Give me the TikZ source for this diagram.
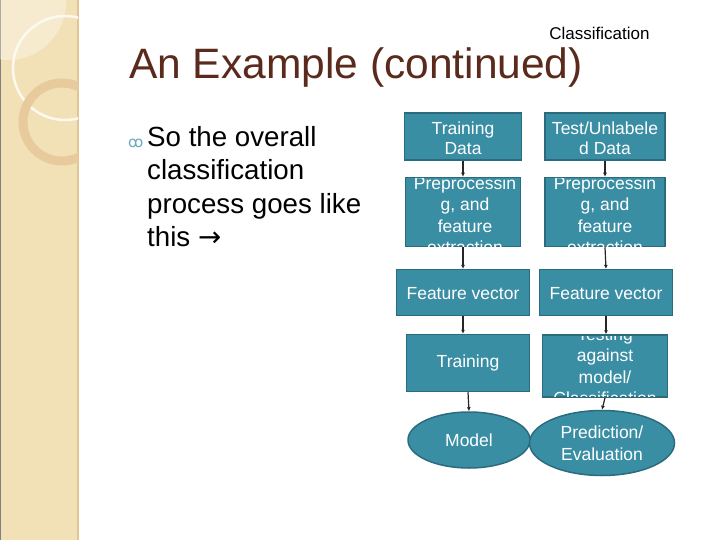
\documentclass[tikz,border=0pt]{standalone}
\usepackage{fontspec}
\setmainfont{Liberation Sans}
\newfontfamily\dejavu{DejaVu Sans}
\usetikzlibrary{shapes.geometric,arrows.meta}
\definecolor{teal1}{HTML}{3A8EA4}
\definecolor{teal2}{HTML}{2A6C7E}
\definecolor{beige}{HTML}{F2E1B6}
\definecolor{titlec}{HTML}{5A2A1C}
\tikzset{
 box/.style={draw=teal2,line width=1.5pt,fill=teal1,text=white,font=\fontsize{17.5}{21.5}\selectfont,align=center,inner sep=0pt},
 cyl/.style={box,cylinder,shape border rotate=90,aspect=0.2,cylinder uses custom fill,cylinder body fill=teal1,cylinder end fill=teal1!85!white},
 lbl/.style={text=white,align=center,font=\fontsize{17.5}{20}\selectfont,inner sep=0pt},
 ell/.style={box,ellipse},
 arr/.style={draw=black!85,line width=1.2pt,-{Latex[length=4pt,width=4pt]}}
}
\begin{document}
\begin{tikzpicture}[x=1pt,y=-1pt]
\useasboundingbox (0,0) rectangle (720,540);
\fill[white] (0,0) rectangle (720,540);
% sidebar
\fill[beige] (0,0) rectangle (78,540);
\draw[beige!70!brown,line width=1.5pt] (78,0) -- (78,540);
\draw[black!50,line width=0.8pt] (0,0) -- (0,540);
\begin{scope}
\clip (0,0) rectangle (78,540);
\fill[white,opacity=0.35] (8,2) circle (58);
\draw[white!80!beige,line width=2.5pt] (65,68) circle (52);
\draw[brown!22!beige,line width=9pt] (62,122) circle (39);
\end{scope}
% texts
\node[anchor=east,font=\fontsize{17}{20}\selectfont] (cls) at (653,33) {Classification};
\node[anchor=west,text=titlec,font=\fontsize{42.5}{46}\selectfont,inner sep=0pt] (title) at (129,68) {An Example (continued)};
\node[anchor=west,text=teal1!75,font=\dejavu\fontsize{15}{15}\selectfont,inner sep=0pt] (bul) at (128,143) {ꝏ};
\node[anchor=north west,align=left,font=\fontsize{27.7}{33.5}\selectfont,inner sep=0pt] (body) at (147,126)
 {So the overall\\classification\\process goes like\\this {\dejavu →}};
% diagram
\node[cyl,minimum width=117pt,minimum height=47pt] (td) at (463,137) {};
\node[lbl] (tdt) at (463,138) {Training\\Data};
\node[cyl,minimum width=120pt,minimum height=47pt] (ud) at (605,137) {};
\node[lbl] (udt) at (605,138) {Test/Unlabele\\d Data};
\node[box,minimum width=115pt,minimum height=69pt] (p1) at (463,212) {};
\node[box,minimum width=120pt,minimum height=69pt] (p2) at (605,212) {};
\begin{scope}
\clip (406,179) rectangle (520,246);
\node[text=white,align=center,font=\fontsize{17.5}{21.5}\selectfont] (p1t) at (465,215) {Preprocessin\\g, and\\feature\\extraction};
\end{scope}
\begin{scope}
\clip (546,179) rectangle (664,246);
\node[text=white,align=center,font=\fontsize{17.5}{21.5}\selectfont] (p2t) at (605,215) {Preprocessin\\g, and\\feature\\extraction};
\end{scope}
\node[cyl,minimum width=133pt,minimum height=46pt] (f1) at (463,293) {};
\node[lbl] (f1t) at (463,294) {Feature vector};
\node[cyl,minimum width=133pt,minimum height=46pt] (f2) at (606,293) {};
\node[lbl] (f2t) at (606,294) {Feature vector};
\node[box,minimum width=123pt,minimum height=57pt] (tr) at (468,363) {Training};
\node[box,minimum width=125pt,minimum height=62pt] (te) at (605,366) {};
\begin{scope}
\clip (544,336) rectangle (667,396);
\node[text=white,align=center,font=\fontsize{17.5}{21.5}\selectfont] (tet) at (605,366) {Testing\\against\\model/\\Classification};
\end{scope}
\node[ell,minimum width=122pt,minimum height=56pt] (mo) at (469,440) {Model};
\node[ell,minimum width=145pt,minimum height=65pt] (pr) at (602,443) {Prediction/\\Evaluation};
% arrows
\draw[arr] (td.south) -- (p1.north);
\draw[arr] (ud.south) -- (p2.north);
\draw[arr] (p1.south) -- (f1.top);
\draw[arr] (p2.south) -- (f2.top);
\draw[arr] (f1.bottom) -- (f1.bottom |- tr.north);
\draw[arr] (f2.bottom) -- (f2.bottom |- te.north);
\draw[arr] (tr.south) -- (mo.north);
\draw[arr] (te.south) -- (pr.north);
\end{tikzpicture}
\end{document}
